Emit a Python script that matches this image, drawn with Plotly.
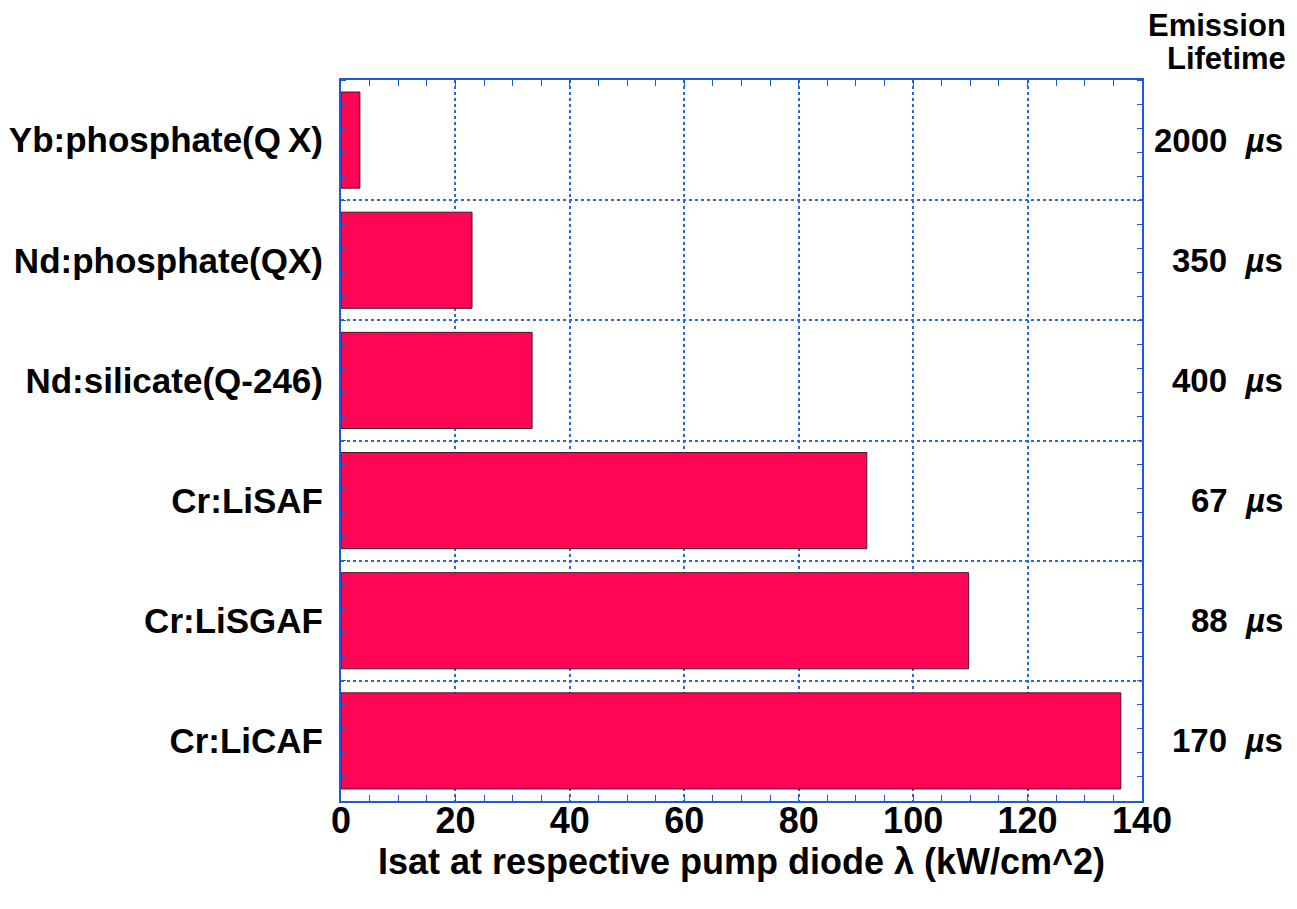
import plotly.graph_objects as go

categories = ["Yb:phosphate(Q\u2009X)", "Nd:phosphate(QX)", "Nd:silicate(Q-246)",
              "Cr:LiSAF", "Cr:LiSGAF", "Cr:LiCAF"]
isat_values = [3.3, 22.9, 33.4, 91.9, 109.7, 136.3]
lifetimes = ["2000", "350", "400", "67", "88", "170"]
x_ticks = [0, 20, 40, 60, 80, 100, 120, 140]

positions = list(range(len(categories)))
boundaries = [p + 0.5 for p in positions[:-1]]

BAR = "#ff0655"
AXIS = "#1f5ad6"
GRID = "#2f66d6"
FONT = "Liberation Sans"

fig = go.Figure()
fig.add_trace(go.Bar(
    x=isat_values, y=positions, orientation="h", width=0.8,
    marker=dict(color=BAR, line=dict(color="#4a1428", width=1)),
    showlegend=False, hoverinfo="x+y",
))
# invisible trace to anchor the label axis
fig.add_trace(go.Scatter(x=[None] * len(positions), y=positions, yaxis="y2",
                         mode="markers", showlegend=False, hoverinfo="skip"))

yrange = [len(categories) - 0.5, -0.5]

fig.update_layout(
    width=1289, height=901,
    margin=dict(l=333, r=155, t=72, b=108, autoexpand=False),
    paper_bgcolor="white", plot_bgcolor="white",
    font=dict(family=FONT, color="black"),
    xaxis=dict(
        range=[0, 140], tickvals=x_ticks, automargin=False,
        tickfont=dict(size=36, weight="bold", family=FONT),
        ticklabelstandoff=-13,
        showline=True, linecolor=AXIS, linewidth=2, mirror="ticks",
        ticks="inside", ticklen=6, tickcolor=AXIS, tickwidth=1,
        showgrid=True, gridcolor=GRID, griddash="dot", gridwidth=1.5,
        zeroline=False,
        minor=dict(dtick=5, ticks="inside", ticklen=6, tickcolor=AXIS, showgrid=False),
        title=dict(text="Isat at respective pump diode λ (kW/cm^2)",
                   font=dict(size=36, weight="bold", family=FONT), standoff=0),
    ),
    yaxis=dict(
        range=yrange, tickvals=boundaries, showticklabels=False, automargin=False,
        ticks="", showline=True, linecolor=AXIS, linewidth=2, mirror="ticks",
        showgrid=True, gridcolor=GRID, griddash="dot", gridwidth=1.5,
        zeroline=False,
        minor=dict(tick0=-0.5, dtick=0.2, ticks="inside", ticklen=5,
                   tickcolor=AXIS, showgrid=False),
    ),
    yaxis2=dict(
        overlaying="y", side="left", anchor="x", range=yrange, automargin=False,
        tickvals=positions, ticktext=categories, ticks="",
        tickfont=dict(size=35, weight="bold", family=FONT),
        ticklabelstandoff=17, showgrid=False, zeroline=False, showline=False,
    ),
    bargap=0.2,
)

for pos, lt in zip(positions, lifetimes):
    fig.add_annotation(
        xref="paper", yref="y", x=1.1785, y=pos, xanchor="right", yanchor="middle",
        text=f"{lt}  <i>µ</i>s", showarrow=False,
        font=dict(size=33, weight="bold", family=FONT, color="black"),
    )

for txt, yp in [("Emission", 1.076), ("Lifetime", 1.030)]:
    fig.add_annotation(
        xref="paper", yref="paper", x=1.181, y=yp, xanchor="right", yanchor="middle",
        text=txt, showarrow=False, borderpad=0,
        font=dict(size=31, weight="bold", family=FONT, color="black"),
    )

fig.write_html("out.html")
